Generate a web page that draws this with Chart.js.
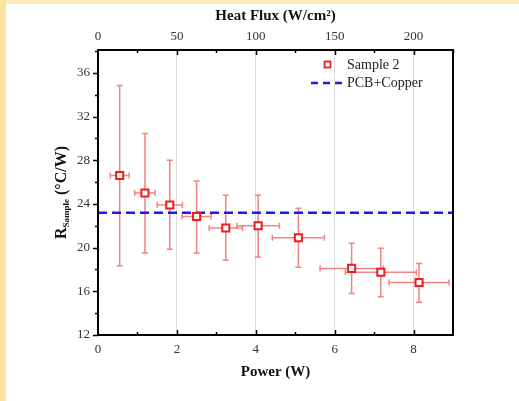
<!DOCTYPE html>
<html lang="en">
<head>
    <meta charset="UTF-8">
    <title>Sample 2 thermal resistance</title>
    <style>
        html, body { margin: 0; padding: 0; background: #fff; }
        #wrap { width: 519px; height: 401px; }
    </style>
</head>
<body>
    <div id="wrap"><canvas id="myChart" width="519" height="401"></canvas></div>
    <script src="https://cdn.jsdelivr.net/npm/chart.js@4.4.1/dist/chart.umd.min.js"></script>
    <script>
        var power = [0.55, 1.19, 1.82, 2.50, 3.24, 4.06, 5.08, 6.43, 7.17, 8.14];
        var rSample = [26.6, 25.0, 23.9, 22.85, 21.8, 22.0, 20.9, 18.1, 17.75, 16.8];
        var powerErr = [0.24, 0.26, 0.32, 0.37, 0.42, 0.54, 0.66, 0.8, 0.9, 0.76];
        var rUpper = [34.85, 30.45, 28.0, 26.1, 24.8, 24.8, 23.6, 20.4, 19.95, 18.55];
        var rLower = [18.35, 19.5, 19.85, 19.5, 18.85, 19.15, 18.2, 15.8, 15.5, 15.0];

        var refX = [0, 9];
        var refY = [23.2, 23.2];

        var powerTicks = [0, 2, 4, 6, 8];
        var fluxTicks = [0, 50, 100, 150, 200];
        var rTicks = [12, 16, 20, 24, 28, 32, 36];

        var serif = '"Liberation Serif", "Times New Roman", serif';
        var errColor = 'rgba(240, 90, 90, 0.75)';

        var pts = power.map(function(p, i) { return { x: p, y: rSample[i] }; });

        var decor = {
            id: 'decor',
            beforeDraw: function(chart) {
                var c = chart.ctx;
                c.save();
                c.fillStyle = '#ffffff';
                c.fillRect(0, 0, chart.width, chart.height);
                c.fillStyle = '#fde9b6';
                c.fillRect(0, 0, chart.width, 4);
                c.fillStyle = '#fde3a2';
                c.fillRect(0, 0, 6, chart.height);
                c.restore();
            },
            afterDatasetsDraw: function(chart) {
                // error bars, drawn under the markers
            },
            afterDraw: function(chart) {
                var c = chart.ctx, a = chart.chartArea;
                var x = chart.scales.x, y = chart.scales.y, x2 = chart.scales.x2;
                c.save();
                c.strokeStyle = '#000';
                c.lineWidth = 1.5;
                // ticks: left outward, bottom/top inward
                var v, px;
                for (v = 12; v <= 38; v += 2) {
                    px = Math.round(y.getPixelForValue(v)) + 0.5;
                    var len = (v % 4 === 0) ? 5 : 3;
                    c.beginPath(); c.moveTo(a.left - len, px); c.lineTo(a.left, px); c.stroke();
                }
                for (v = 1; v <= 8; v += 1) {
                    px = Math.round(x.getPixelForValue(v)) + 0.5;
                    var l2 = (v % 2 === 0) ? 5 : 3;
                    c.beginPath(); c.moveTo(px, a.bottom); c.lineTo(px, a.bottom - l2); c.stroke();
                }
                for (v = 25; v <= 225; v += 25) {
                    px = Math.round(x2.getPixelForValue(v)) + 0.5;
                    var l3 = (v % 50 === 0) ? 5 : 3;
                    c.beginPath(); c.moveTo(px, a.top); c.lineTo(px, a.top + l3); c.stroke();
                }
                // frame
                c.lineWidth = 2;
                c.strokeRect(a.left, a.top, a.right - a.left, a.bottom - a.top);

                // axis titles
                c.fillStyle = '#111';
                c.textAlign = 'center';
                c.textBaseline = 'middle';
                c.font = 'bold 15px ' + serif;
                var cx = (a.left + a.right) / 2;
                c.fillText('Power (W)', cx, 372);
                c.fillText('Heat Flux (W/cm\u00B2)', cx, 16);

                // y title with subscript
                c.translate(60, (a.top + a.bottom) / 2);
                c.rotate(-Math.PI / 2);
                c.textAlign = 'left';
                c.textBaseline = 'alphabetic';
                var big = 'bold 16px ' + serif, small = 'bold 9px ' + serif;
                c.font = big; var w1 = c.measureText('R').width;
                c.font = small; var w2 = c.measureText('Sample').width;
                c.font = big; var w3 = c.measureText(' (\u00B0C/W)').width;
                var sx = -(w1 + w2 + w3) / 2;
                c.font = big; c.fillText('R', sx, 6);
                c.font = small; c.fillText('Sample', sx + w1, 9);
                c.font = big; c.fillText(' (\u00B0C/W)', sx + w1 + w2, 6);
                c.restore();

                // legend
                c.save();
                c.strokeStyle = '#ee1c1c';
                c.lineWidth = 1.8;
                c.fillStyle = '#fff';
                c.fillRect(324.5, 61.5, 6, 6);
                c.strokeRect(324.5, 61.5, 6, 6);
                c.strokeStyle = '#1a1aee';
                c.lineWidth = 2.5;
                c.setLineDash([7, 5]);
                c.beginPath(); c.moveTo(311, 83); c.lineTo(344, 83); c.stroke();
                c.setLineDash([]);
                c.fillStyle = '#222';
                c.font = '14px ' + serif;
                c.textAlign = 'left';
                c.textBaseline = 'middle';
                c.fillText('Sample 2', 347, 65);
                c.fillText('PCB+Copper', 347, 83);
                c.restore();
            }
        };

        var errorBars = {
            id: 'errorBars',
            beforeDatasetsDraw: function(chart) {
                var c = chart.ctx, x = chart.scales.x, y = chart.scales.y;
                c.save();
                c.strokeStyle = errColor;
                c.lineWidth = 1.5;
                var cap = 3;
                for (var i = 0; i < power.length; i++) {
                    var px = x.getPixelForValue(power[i]);
                    var py = y.getPixelForValue(rSample[i]);
                    var yt = y.getPixelForValue(rUpper[i]);
                    var yb = y.getPixelForValue(rLower[i]);
                    var xl = x.getPixelForValue(power[i] - powerErr[i]);
                    var xr = x.getPixelForValue(power[i] + powerErr[i]);
                    c.beginPath();
                    c.moveTo(px, yt); c.lineTo(px, yb);
                    c.moveTo(px - cap, yt); c.lineTo(px + cap, yt);
                    c.moveTo(px - cap, yb); c.lineTo(px + cap, yb);
                    c.moveTo(xl, py); c.lineTo(xr, py);
                    c.moveTo(xl, py - cap); c.lineTo(xl, py + cap);
                    c.moveTo(xr, py - cap); c.lineTo(xr, py + cap);
                    c.stroke();
                }
                c.restore();
            }
        };

        var ctx = document.getElementById('myChart').getContext('2d');
        var chart = new Chart(ctx, {
            type: 'scatter',
            data: {
                datasets: [{
                    label: 'PCB+Copper',
                    type: 'line',
                    data: refX.map(function(v, i) { return { x: v, y: refY[i] }; }),
                    borderColor: '#1a1aee',
                    borderWidth: 2.5,
                    borderDash: [9, 5],
                    pointRadius: 0,
                    fill: false,
                    order: 2
                }, {
                    label: 'Sample 2',
                    data: pts,
                    pointStyle: 'rect',
                    pointRadius: 5,
                    pointBorderWidth: 2,
                    pointBorderColor: '#ee1c1c',
                    pointBackgroundColor: '#ffffff',
                    order: 1
                }]
            },
            options: {
                responsive: false,
                animation: false,
                devicePixelRatio: 1,
                layout: { padding: { left: 0, right: 66, top: 0, bottom: 0 } },
                plugins: { legend: { display: false }, tooltip: { enabled: false } },
                scales: {
                    x: {
                        type: 'linear', position: 'bottom', min: 0, max: 9,
                        afterFit: function(s) { s.height = 66; },
                        afterBuildTicks: function(s) { s.ticks = powerTicks.map(function(v) { return { value: v }; }); },
                        ticks: { padding: 7, color: '#333', font: { family: serif, size: 13 } },
                        grid: {
                            drawTicks: false,
                            color: function(c) { return (c.tick && c.tick.value > 0) ? '#dcdcdc' : 'rgba(0,0,0,0)'; },
                            lineWidth: 1
                        },
                        border: { display: false }
                    },
                    x2: {
                        type: 'linear', position: 'top', min: 0, max: 225,
                        afterFit: function(s) { s.height = 50; },
                        afterBuildTicks: function(s) { s.ticks = fluxTicks.map(function(v) { return { value: v }; }); },
                        ticks: { padding: 6, color: '#333', font: { family: serif, size: 13 } },
                        grid: { display: false, drawTicks: false },
                        border: { display: false }
                    },
                    y: {
                        type: 'linear', position: 'left', min: 12, max: 38.1,
                        afterFit: function(s) { s.width = 98; },
                        afterBuildTicks: function(s) { s.ticks = rTicks.map(function(v) { return { value: v }; }); },
                        ticks: { padding: 8, color: '#333', font: { family: serif, size: 13 } },
                        grid: { display: false, drawTicks: false },
                        border: { display: false }
                    }
                }
            },
            plugins: [decor, errorBars]
        });
    </script>
</body>
</html>
